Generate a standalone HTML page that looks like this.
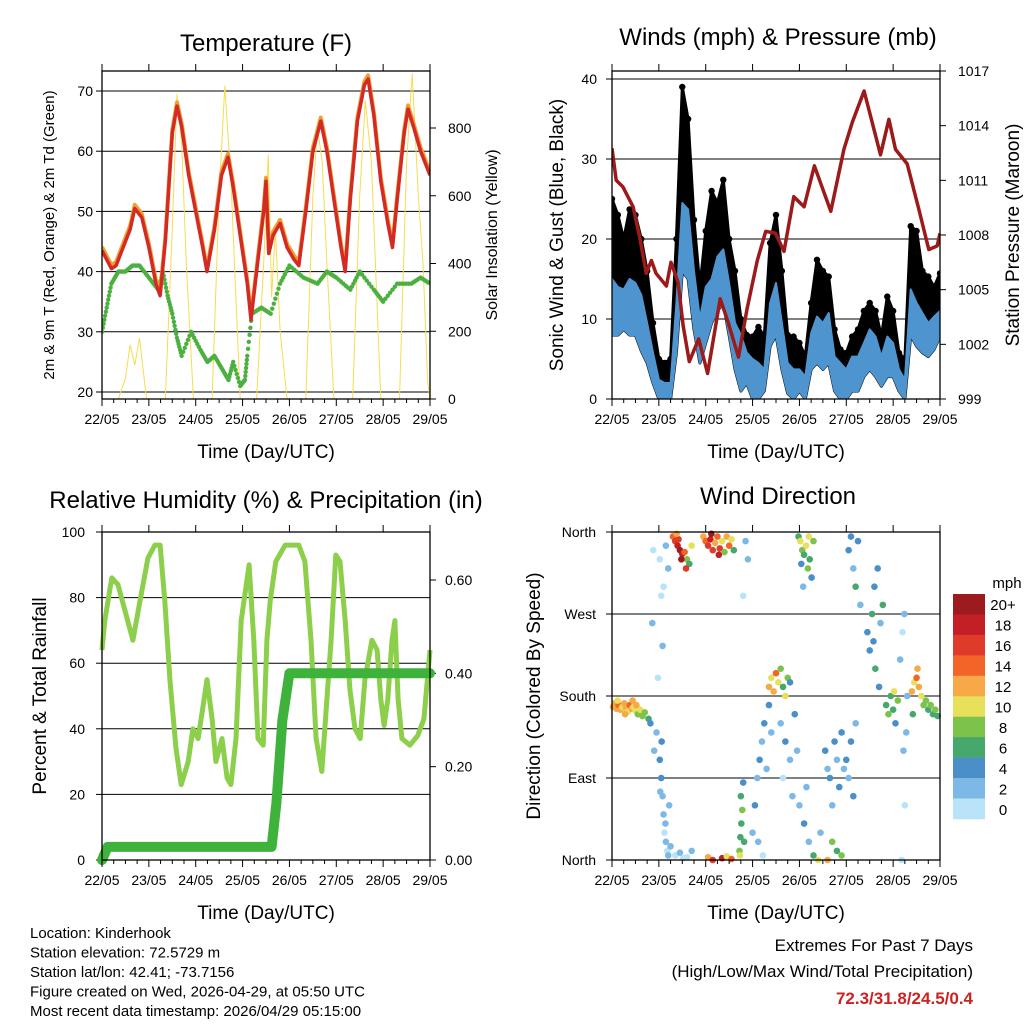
<!DOCTYPE html>
<html><head><meta charset="utf-8"><style>
html,body{margin:0;padding:0;background:#fff;}
svg{display:block;font-family:"Liberation Sans",sans-serif;}
</style></head><body>
<svg id="chart" width="1024" height="1024" viewBox="0 0 1024 1024" xmlns="http://www.w3.org/2000/svg"></svg>
<script>
// ---------- Temperature panel data ----------
const tempDays = [0,0.1,0.2,0.3,0.45,0.6,0.7,0.85,1.0,1.15,1.24,1.35,1.5,1.6,1.7,1.85,2.0,2.15,2.24,2.4,2.55,2.69,2.8,2.95,3.1,3.18,3.3,3.45,3.5,3.56,3.65,3.8,3.95,4.1,4.2,4.35,4.5,4.67,4.8,4.95,5.1,5.19,5.3,5.45,5.6,5.68,5.8,5.95,6.1,6.2,6.3,6.45,6.53,6.65,6.8,7.0];
const tempVals = [43.5,42,40.5,41,44,47,50.5,49,44,38,36,45,63,67.5,64,56,50,44,40,47,56,59,54,46,38,32,40,50,55,43,46,48,44,42,41,50,60,65,60,52,44,40,52,65,71,72,66,55,48,44,52,63,67,64,60,56];
const dewDays = [0,0.1,0.2,0.35,0.5,0.65,0.8,1.0,1.2,1.3,1.4,1.5,1.6,1.7,1.9,2.1,2.25,2.4,2.55,2.7,2.8,2.95,3.05,3.1,3.2,3.4,3.6,3.8,4.0,4.3,4.6,4.8,5.0,5.3,5.5,5.8,6.0,6.3,6.6,6.8,7.0];
const dewVals = [30,34,38,40,40,41,41,39,37,40,36,33,29,26,30,27,25,26,24,22,25,21,22,26,33,34,33,38,41,39,38,40,39,37,40,37,35,38,38,39,38];
const solarDays = [0,0.35,0.5,0.6,0.7,0.8,0.95,1.35,1.5,1.6,1.7,1.8,1.95,2.35,2.5,2.62,2.75,2.95,3.3,3.45,3.55,3.62,3.7,3.8,3.95,4.35,4.5,4.6,4.7,4.8,4.95,5.35,5.5,5.62,5.75,5.95,6.35,6.5,6.62,6.75,6.85,6.95,7.0];
const solarVals = [0,0,60,160,100,180,0,0,500,900,750,400,0,0,600,925,650,0,0,400,720,300,500,200,0,0,600,800,700,400,0,0,600,880,700,0,0,700,960,600,400,50,0];
const dayLabels = ["22/05","23/05","24/05","25/05","26/05","27/05","28/05","29/05"];
const tempTicks = [20,30,40,50,60,70];
const solarTicks = [0,200,400,600,800];
// ---------- Winds panel data ----------
const windBinDays = [0,0.125,0.25,0.375,0.5,0.625,0.75,0.875,1,1.125,1.25,1.375,1.5,1.625,1.75,1.875,2,2.125,2.25,2.375,2.5,2.625,2.75,2.875,3,3.125,3.25,3.375,3.5,3.625,3.75,3.875,4,4.125,4.25,4.375,4.5,4.625,4.75,4.875,5,5.125,5.25,5.375,5.5,5.625,5.75,5.875,6,6.125,6.25,6.375,6.5,6.625,6.75,6.875,7];
const gustHi = [25,23,20,23.7,23,20,16,9.5,5,4.5,5,20,39,35,22.4,14,21,26,24.5,27.4,20,16,10,8,7.8,9,7.8,19.5,23,16,8,7.8,7,5.3,12,17.4,16,15.3,8.7,6.2,5.75,7.8,8.7,11,12,11,7.8,12.8,11,5.75,5,21.6,21,16,15.3,14,15.7];
const windHi = [15,14,13.7,15,14.5,13,9.5,5.8,2.4,2,2,12,24.5,23.7,16,10,14,15,17.8,18.7,14.5,9.5,8,5.8,5,4.5,3.7,12,14.5,9.5,4.5,3.7,3.7,2.8,8.2,10.3,9.5,10.75,5.3,4.5,3.7,5.3,5.3,7,8.7,7.8,5.3,7.8,7,3.7,2.4,13.7,12,10.75,9.5,10.3,11];
const windLo = [8,8,8.7,8,8,6,4.5,2,0,0,0,5.8,16,15,8.7,4.5,7,9.5,11,12,8,3.7,1,2,0,0,1,6.6,8,3.7,0.7,0,1,0,3.7,4.5,3.7,4.5,1,0,0,1,1,2.8,3.7,2.8,1.6,2.8,2.8,1,0,8,6.6,5.8,5.3,6.2,7.8];
const presDays = [0,0.09,0.23,0.45,0.59,0.73,0.84,0.94,1.16,1.26,1.41,1.52,1.65,1.85,2.04,2.31,2.48,2.7,2.88,3.1,3.28,3.49,3.67,3.88,4.1,4.32,4.67,4.95,5.13,5.38,5.73,5.91,6.05,6.3,6.55,6.76,6.94,7.0];
const presVals = [1012.76,1011.0,1010.65,1009.55,1007.9,1005.9,1006.6,1005.9,1005.2,1006.5,1005.4,1003,1001.05,1002.3,1000.4,1004.5,1003.2,1001.3,1003.9,1006.6,1008.2,1008.1,1007.1,1010.1,1009.55,1011.8,1009.3,1012.7,1014.2,1015.9,1012.4,1014.35,1012.7,1011.9,1009.4,1007.2,1007.4,1008.1];
const windTicks = [0,10,20,30,40];
const presTicks = [999,1002,1005,1008,1011,1014,1017];
// ---------- RH panel data ----------
const rhDays = [0,0.06,0.21,0.34,0.49,0.66,0.81,0.98,1.13,1.24,1.34,1.45,1.58,1.69,1.84,1.94,2.05,2.18,2.24,2.35,2.43,2.56,2.67,2.75,2.86,2.97,3.14,3.24,3.33,3.44,3.52,3.59,3.71,3.91,4.2,4.33,4.46,4.57,4.69,4.8,4.89,4.99,5.08,5.19,5.29,5.4,5.51,5.61,5.76,5.87,5.95,6.02,6.1,6.19,6.25,6.32,6.4,6.57,6.74,6.87,7.0];
const rhVals = [64,73,86,84,76,67,79,92,96,96,79,55,34,23,30,40,37,49,55,43,30,37,25,23,37,73,90,67,37,35,67,79,91,96,96,91,67,37,27,49,67,93,91,73,52,40,37,55,67,64,49,41,49,67,73,49,37,35,38,43,64];
const precipDays = [0,0.12,3.62,3.72,3.85,4.0,7.0];
const precipVals = [0,0.028,0.028,0.12,0.3,0.4,0.4];
const rhTicks = [0,20,40,60,80,100];
const precipTicks = [0,0.2,0.4,0.6];
// ---------- Wind direction data ----------
const dirDay = [0.02,0.06,0.1,0.14,0.18,0.22,0.26,0.3,0.34,0.38,0.42,0.46,0.5,0.55,0.6,0.65,0.7,0.12,0.28,0.44,0.52,
0.78,0.82,0.9,0.95,0.88,0.86,0.98,
1.02,1.05,1.08,1.1,1.12,1.15,1.18,1.2,1.22,1.06,1.25,1.03,1.14,
1.02,1.05,1.08,1.1,1.15,1.2,
1.3,1.35,1.4,1.45,1.5,1.42,1.55,1.6,1.65,1.7,1.38,1.48,1.58,
1.35,1.45,1.6,1.7,1.52,
1.95,2.0,2.05,2.1,2.15,2.2,2.25,2.3,2.35,2.4,2.45,2.5,2.55,2.6,2.12,2.28,
2.05,2.15,2.35,2.45,2.55,
2.72,2.74,2.76,2.78,2.75,2.8,2.73,2.82,
2.85,2.9,2.8,
3.0,3.05,3.1,3.15,3.2,3.25,3.3,3.35,3.4,3.12,3.22,
3.35,3.4,3.45,3.5,3.55,3.6,3.65,3.7,3.75,3.8,
3.6,3.7,3.8,3.9,3.95,3.65,3.85,
3.98,4.02,4.06,4.1,4.14,4.18,4.22,4.26,4.3,4.08,4.2,4.04,
4.0,4.1,4.2,4.3,4.4,4.45,4.15,
4.55,4.6,4.65,4.7,4.75,4.8,4.85,4.9,4.95,4.7,4.8,4.9,4.6,
5.0,5.05,5.1,5.15,5.2,5.05,5.1,5.15,5.2,5.25,5.3,
5.45,5.5,5.55,5.6,5.62,5.67,5.7,5.73,5.58,5.78,
5.85,5.9,5.95,6.0,6.05,6.1,6.02,
6.15,6.2,6.22,6.25,6.18,6.3,6.28,6.24,
6.4,6.45,6.5,6.55,6.6,6.65,6.7,6.75,6.8,6.85,6.9,6.95,6.52,6.42];
const dirDeg = [168,172,166,170,165,168,172,167,163,170,166,168,164,160,165,158,162,175,160,175,170,
155,150,120,140,340,260,200,
110,90,70,50,30,20,10,5,60,130,15,75,40,
330,290,235,300,345,320,
355,350,345,340,336,352,338,330,325,345,358,330,320,
5,8,3,10,2,
355,350,345,352,340,348,355,342,350,338,355,345,352,340,358,335,
3,0,2,4,1,
10,25,40,55,70,85,5,20,
350,330,290,
30,60,90,110,130,150,100,170,140,20,5,
190,200,185,205,195,210,190,180,200,195,
150,130,110,160,120,90,70,
355,350,340,335,345,320,330,310,350,300,355,325,
60,40,20,5,0,30,80,
120,100,90,60,130,110,80,140,100,20,10,5,0,
110,90,130,70,150,340,355,320,300,350,280,
250,230,270,300,210,320,190,260,240,280,
170,160,180,165,150,175,185,
220,250,120,60,0,180,140,270,
185,195,200,190,180,170,175,165,170,160,165,158,210,160];
const dirSpd = [12,13,12,14,12,11,13,12,10,14,12,11,10,9,10,8,8,10,12,13,12,
6,4,2,2,1,2,1,
4,4,3,2,1,2,1,2,3,4,2,2,3,
1,0,3,1,2,2,
14,16,18,20,18,16,14,8,6,10,12,20,16,
1,2,1,2,0,
12,14,16,18,16,12,14,16,10,8,12,14,10,6,20,18,
12,16,18,10,14,
8,7,6,8,6,4,10,6,
2,2,1,
2,4,3,4,3,4,2,4,3,2,1,
12,10,12,14,10,8,6,10,8,4,
2,4,2,4,2,1,2,
6,10,8,6,10,8,6,4,8,2,10,4,
2,4,2,6,10,2,2,
4,2,4,2,4,2,4,4,2,8,6,8,12,
4,2,4,4,2,4,4,2,6,4,2,
4,4,6,4,6,4,4,2,4,6,
6,8,6,6,4,8,10,
2,1,2,1,1,2,2,2,
12,10,14,12,10,8,8,6,8,6,8,6,12,6];
const speedBins = [0,2,4,6,8,10,12,14,16,18,20];
const speedLabels = ["0","2","4","6","8","10","12","14","16","18","20+"];
const speedColors = ["#b9e3f8","#7db9e6","#4a8fc8","#47a86e","#7cc24b","#e8e05a","#f7a847","#f26428","#e03a2b","#c21f27","#9b1b1f"];
const dirTicks = [0,90,180,270,360];
const dirLabels = ["North","East","South","West","North"];

const NS = "http://www.w3.org/2000/svg";
const svg = document.getElementById('chart');
function el(tag, a, name, parent){
  const e = document.createElementNS(NS, tag);
  for (const k in a) e.setAttribute(k, a[k]);
  
  
  (parent || svg).appendChild(e);
  return e;
}
function txt(s, x, y, size, name, opt){
  opt = opt || {};
  const t = el('text', {x:x, y:y, 'font-size':size, fill:opt.fill||'#000', 'text-anchor':opt.anchor||'start', 'font-weight':opt.weight||'normal'}, name);
  if (opt.rot) t.setAttribute('transform', 'rotate(' + opt.rot + ' ' + x + ' ' + y + ')');
  t.textContent = s;
  return t;
}
function panel(x0, y0, x1, y1){ return {x0:x0, y0:y0, x1:x1, y1:y1, xs: d => x0 + d*(x1-x0)/7}; }
function scale(y0px, y1px, v0, v1){ return v => y0px + (v - v0)*(y1px - y0px)/(v1 - v0); }
function pathFrom(xsArr, ysArr){ return xsArr.map((x,i) => (i?'L':'M') + x.toFixed(1) + ' ' + ysArr[i].toFixed(1)).join(''); }
function xAxis(p){
  for (let d = 0; d <= 7; d++){
    const x = p.xs(d);
    el('line', {x1:x, y1:p.y1, x2:x, y2:p.y1+7, stroke:'#000', 'stroke-width':1}, 'x-tick');
    el('line', {x1:x, y1:p.y0, x2:x, y2:p.y0-7, stroke:'#000', 'stroke-width':1}, 'x-tick-top');
    txt(dayLabels[d], x, p.y1+25, 14, 'x-tick-label', {anchor:'middle'});
    if (d < 7) for (let q = 1; q < 4; q++){
      const xm = p.xs(d + q/4);
      el('line', {x1:xm, y1:p.y1, x2:xm, y2:p.y1+4, stroke:'#000', 'stroke-width':1}, 'x-minor-tick');
    }
  }
  txt('Time (Day/UTC)', (p.x0+p.x1)/2, p.y1+59, 19, 'x-axis-title', {anchor:'middle'});
}
function box(p){ el('rect', {x:p.x0, y:p.y0, width:p.x1-p.x0, height:p.y1-p.y0, fill:'none', stroke:'#000', 'stroke-width':1.3}, 'plot-frame'); }
function grid(p, y){ el('line', {x1:p.x0, y1:y, x2:p.x1, y2:y, stroke:'#000', 'stroke-width':1}, 'grid-line'); }
function clipFor(p, id){
  const defs = el('defs', {}, 'clip-defs');
  const cp = el('clipPath', {id:id}, 'plot-clip', defs);
  el('rect', {x:p.x0, y:p.y0, width:p.x1-p.x0, height:p.y1-p.y0}, 'plot-clip-rect', cp);
  return el('g', {'clip-path':'url(#' + id + ')'}, 'plot-area');
}

// ===== Temperature =====
(function(){
  const p = panel(102, 71, 430, 399);
  const yT = scale(392, 91, 20, 70);
  const yS = scale(399, 128, 0, 800);
  tempTicks.forEach(v => { grid(p, yT(v)); el('line',{x1:p.x0-6,y1:yT(v),x2:p.x0,y2:yT(v),stroke:'#000'},'y-tick'); txt(String(v), 93, yT(v)+5, 14, 'y-tick-label', {anchor:'end'}); });
  solarTicks.forEach(v => { el('line',{x1:p.x1,y1:yS(v),x2:p.x1+6,y2:yS(v),stroke:'#000'},'y2-tick'); txt(String(v), 448, yS(v)+5, 14, 'y2-tick-label'); });
  const area = clipFor(p, 'clipT');
  el('path', {d:pathFrom(solarDays.map(p.xs), solarVals.map(yS)), fill:'none', stroke:'#f7dc4f', 'stroke-width':1}, 'solar-insolation-line', area);
  const g = el('g', {}, 'dewpoint-series', area);
  dewDays.forEach((d,i) => { if (i === 0) return;
    const n = 6;
    for (let k = 0; k < n; k++){
      const f = k/n, dd = dewDays[i-1] + f*(d - dewDays[i-1]), vv = dewVals[i-1] + f*(dewVals[i] - dewVals[i-1]);
      el('circle', {cx:p.xs(dd), cy:yT(vv), r:2.2, fill:'#4cb040'}, 'dewpoint-point', g);
    }});
  el('path', {d:pathFrom(tempDays.map(p.xs), tempVals.map(v => yT(v+0.6))), fill:'none', stroke:'#f0a030', 'stroke-width':4, 'stroke-linejoin':'round'}, 'temp-9m-line', area);
  el('path', {d:pathFrom(tempDays.map(p.xs), tempVals.map(yT)), fill:'none', stroke:'#d42a26', 'stroke-width':3.5, 'stroke-linejoin':'round'}, 'temp-2m-line', area);
  box(p); xAxis(p);
  txt('Temperature (F)', 266, 51, 24, 'temperature-title', {anchor:'middle'});
  txt('2m & 9m T (Red, Orange) & 2m Td (Green)', 54, 235, 15, 'temperature-y-axis-title', {anchor:'middle', rot:-90});
  txt('Solar Insolation (Yellow)', 497, 235, 16, 'solar-y-axis-title', {anchor:'middle', rot:-90});
})();

// ===== Winds =====
(function(){
  const p = panel(612, 71, 940, 399);
  const yW = scale(399, 79, 0, 40);
  const yP = scale(399, 71, 999, 1017);
  windTicks.forEach(v => { grid(p, yW(v)); el('line',{x1:p.x0-6,y1:yW(v),x2:p.x0,y2:yW(v),stroke:'#000'},'y-tick'); txt(String(v), 597, yW(v)+5, 14, 'y-tick-label', {anchor:'end'}); });
  presTicks.forEach(v => { el('line',{x1:p.x1,y1:yP(v),x2:p.x1+6,y2:yP(v),stroke:'#000'},'y2-tick'); txt(String(v), 958, yP(v)+5, 14, 'y2-tick-label'); });
  const area = clipFor(p, 'clipW');
  const xsB = windBinDays.map(p.xs);
  const rev = a => a.slice().reverse();
  el('path', {d:pathFrom(xsB.concat(rev(xsB)), gustHi.map(yW).concat(rev(windLo).map(yW))) + 'Z', fill:'#000', stroke:'#000', 'stroke-width':3, 'stroke-linejoin':'round'}, 'gust-series', area);
  const gd = el('g', {}, 'gust-peak-dots', area);
  windBinDays.forEach((d,i) => { el('circle', {cx:p.xs(d), cy:yW(gustHi[i]), r:3.2, fill:'#000'}, 'gust-dot', gd); });
  el('path', {d:pathFrom(xsB.concat(rev(xsB)), windHi.map(yW).concat(rev(windLo).map(yW))) + 'Z', fill:'#4e95d0', stroke:'#4e95d0', 'stroke-width':2, 'stroke-linejoin':'round'}, 'wind-series', area);
  el('path', {d:pathFrom(presDays.map(p.xs), presVals.map(yP)), fill:'none', stroke:'#9c1a1a', 'stroke-width':3.5, 'stroke-linejoin':'round'}, 'pressure-line', area);
  box(p); xAxis(p);
  txt('Winds (mph) & Pressure (mb)', 778, 45, 24, 'winds-title', {anchor:'middle'});
  txt('Sonic Wind & Gust (Blue, Black)', 563, 235, 19, 'winds-y-axis-title', {anchor:'middle', rot:-90});
  txt('Station Pressure (Maroon)', 1019, 235, 19, 'pressure-y-axis-title', {anchor:'middle', rot:-90});
})();

// ===== Relative Humidity =====
(function(){
  const p = panel(102, 532, 430, 860);
  const yR = scale(860, 532, 0, 100);
  const yPr = scale(860, 580, 0, 0.6);
  rhTicks.forEach(v => { grid(p, yR(v)); el('line',{x1:p.x0-6,y1:yR(v),x2:p.x0,y2:yR(v),stroke:'#000'},'y-tick'); txt(String(v), 85, yR(v)+5, 14, 'y-tick-label', {anchor:'end'}); });
  precipTicks.forEach(v => { el('line',{x1:p.x1,y1:yPr(v),x2:p.x1+6,y2:yPr(v),stroke:'#000'},'y2-tick'); txt(v.toFixed(2), 445, yPr(v)+5, 14, 'y2-tick-label'); });
  el('path', {d:pathFrom(rhDays.map(p.xs), rhVals.map(yR)), fill:'none', stroke:'#8ccf4a', 'stroke-width':5, 'stroke-linejoin':'round'}, 'relative-humidity-line');
  el('path', {d:pathFrom(precipDays.map(p.xs), precipVals.map(yPr)), fill:'none', stroke:'#3fb23c', 'stroke-width':10, 'stroke-linejoin':'round', 'stroke-linecap':'round'}, 'precipitation-line');
  box(p); xAxis(p);
  txt('Relative Humidity (%) & Precipitation (in)', 266, 508, 24, 'rh-title', {anchor:'middle'});
  txt('Percent & Total Rainfall', 46, 696, 19, 'rh-y-axis-title', {anchor:'middle', rot:-90});
})();

// ===== Wind Direction =====
(function(){
  const p = panel(612, 532, 940, 860);
  const yD = scale(860, 532, 0, 360);
  dirTicks.forEach((v,i) => { grid(p, yD(v)); el('line',{x1:p.x0-6,y1:yD(v),x2:p.x0,y2:yD(v),stroke:'#000'},'y-tick'); txt(dirLabels[i], 596, yD(v)+5, 14, 'y-tick-label', {anchor:'end'}); });
  const g = el('g', {}, 'wind-direction-points');
  dirDay.forEach((d,i) => {
    let ci = 0; speedBins.forEach((b,k) => { if (dirSpd[i] >= b) ci = k; });
    el('circle', {cx:p.xs(d), cy:yD(dirDeg[i]), r:3.3, fill:speedColors[ci]}, 'direction-point', g);
  });
  box(p); xAxis(p);
  txt('Wind Direction', 778, 504, 24, 'wind-direction-title', {anchor:'middle'});
  txt('Direction (Colored By Speed)', 540, 696, 19, 'direction-y-axis-title', {anchor:'middle', rot:-90});
  const cbTop = 594, cbH = 225/11;
  speedColors.slice().reverse().forEach((c,k) => {
    el('rect', {x:953, y:cbTop + k*cbH, width:32, height:cbH+0.3, fill:c}, 'colorbar-swatch');
    txt(speedLabels[speedLabels.length-1-k], 1003, cbTop + k*cbH + cbH/2 + 6, 15, 'colorbar-label', {anchor:'middle'});
  });
  txt('mph', 1007, 588, 15, 'colorbar-title', {anchor:'middle'});
})();

// ===== Footer =====
['Location: Kinderhook','Station elevation: 72.5729 m','Station lat/lon: 42.41; -73.7156','Figure created on Wed, 2026-04-29, at 05:50 UTC','Most recent data timestamp: 2026/04/29 05:15:00'].forEach((s,i) => {
  txt(s, 30, 938 + i*19.5, 15, 'footer-info-line');
});
txt('Extremes For Past 7 Days', 973, 951, 17, 'extremes-title', {anchor:'end'});
txt('(High/Low/Max Wind/Total Precipitation)', 973, 977, 17, 'extremes-subtitle', {anchor:'end'});
txt('72.3/31.8/24.5/0.4', 973, 1004, 17, 'extremes-values', {anchor:'end', fill:'#cc2222', weight:'bold'});
</script>
</body></html>
